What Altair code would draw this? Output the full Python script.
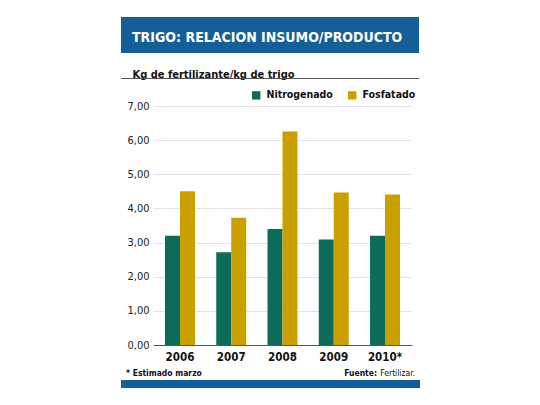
import altair as alt
import pandas as pd

years = ["2006", "2007", "2008", "2009", "2010*"]
nitrogenado = [3.20, 2.72, 3.40, 3.09, 3.20]
fosfatado = [4.50, 3.73, 6.25, 4.47, 4.41]
series = ["Nitrogenado", "Fosfatado"]
colors = ["#0d6b5a", "#c9a000"]

FONT = "DejaVu Sans Condensed, Liberation Sans Narrow, sans-serif"
BLUE = "#155f99"

rows = []
for i, y in enumerate(years):
    rows.append({"Año": y, "Serie": series[0], "Valor": nitrogenado[i]})
    rows.append({"Año": y, "Serie": series[1], "Valor": fosfatado[i]})
df = pd.DataFrame(rows)

bars = alt.Chart(df).mark_bar().encode(
    x=alt.X(
        "Año:N",
        sort=years,
        scale=alt.Scale(paddingInner=0.415, paddingOuter=0.234),
        axis=alt.Axis(
            title=None, labelAngle=0, labelFont=FONT, labelFontWeight="bold",
            labelFontSize=11.5, labelColor="#111", labelPadding=6,
            ticks=False, domainColor="#555", domainWidth=1,
        ),
    ),
    xOffset=alt.XOffset("Serie:N", sort=series),
    y=alt.Y(
        "Valor:Q",
        scale=alt.Scale(domain=[0, 7]),
        axis=alt.Axis(
            values=[0, 1, 2, 3, 4, 5, 6, 7],
            labelExpr="replace(format(datum.value, '.2f'), '.', ',')",
            labelFont=FONT, labelFontSize=11, labelColor="#222",
            labelAlign="left", labelPadding=26, ticks=False, tickSize=0,
            domain=False, gridColor="#e3e3e3", gridWidth=1,
            title="Kg de fertilizante/kg de trigo", titleAngle=0,
            titleAlign="left", titleBaseline="alphabetic",
            titleX=-21, titleY=-29, titleFont=FONT, titleFontSize=11,
            titleFontWeight="bold", titleColor="#111",
        ),
    ),
    color=alt.Color(
        "Serie:N",
        sort=series,
        scale=alt.Scale(domain=series, range=colors),
        legend=alt.Legend(
            title=None, orient="none", legendX=98, legendY=-16,
            direction="horizontal", symbolType="square", symbolSize=70,
            symbolStrokeWidth=0, labelFont=FONT, labelFontSize=10.5,
            labelFontWeight="bold", labelColor="#111", columnPadding=14,
            labelOffset=5,
        ),
    ),
)

banner = alt.Chart(pd.DataFrame({"t": [0]})).mark_rect(color=BLUE).encode(
    x=alt.value(-32), x2=alt.value(266), y=alt.value(-89), y2=alt.value(-53)
)

banner_text = alt.Chart(pd.DataFrame({"t": ["TRIGO: RELACION INSUMO/PRODUCTO"]})).mark_text(
    align="left", baseline="alphabetic", font=FONT, fontSize=14,
    fontWeight="bold", color="white"
).encode(x=alt.value(-21), y=alt.value(-64.5), text="t:N")

sep = alt.Chart(pd.DataFrame({"t": [0]})).mark_rule(
    color="#555", strokeWidth=1
).encode(x=alt.value(-32), x2=alt.value(266), y=alt.value(-27.5))

bottom_bar = alt.Chart(pd.DataFrame({"t": [0]})).mark_rect(color=BLUE).encode(
    x=alt.value(-32), x2=alt.value(267), y=alt.value(274), y2=alt.value(282)
)

note = alt.Chart(pd.DataFrame({"t": ["* Estimado marzo"]})).mark_text(
    align="left", baseline="alphabetic", font=FONT, fontSize=8.5,
    fontWeight="bold", color="#111"
).encode(x=alt.value(-27), y=alt.value(270), text="t:N")

fuente = alt.Chart(pd.DataFrame({"t": ["Fuente:"]})).mark_text(
    align="right", baseline="alphabetic", font=FONT, fontSize=8.5,
    fontWeight="bold", color="#111"
).encode(x=alt.value(224), y=alt.value(270), text="t:N")

fertilizar = alt.Chart(pd.DataFrame({"t": ["Fertilizar."]})).mark_text(
    align="right", baseline="alphabetic", font=FONT, fontSize=8.5, color="#111"
).encode(x=alt.value(262), y=alt.value(270), text="t:N")

chart = alt.layer(
    banner, banner_text, sep, bars, bottom_bar, note, fuente, fertilizar
).properties(
    width=259,
    height=239,
    autosize=alt.AutoSizeParams(type="none"),
    padding={"left": 145, "top": 98, "right": 120, "bottom": 52},
).configure_view(stroke=None)

chart.save("out.html", embed_options={"renderer": "svg", "actions": False})
